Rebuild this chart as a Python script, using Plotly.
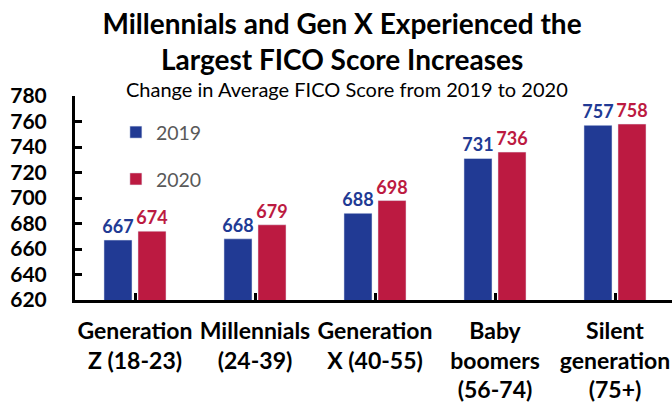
import plotly.graph_objects as go

categories = ["Generation<br>Z (18-23)", "Millennials<br>(24-39)", "Generation<br>X (40-55)",
              "Baby<br>boomers<br>(56-74)", "Silent<br>generation<br>(75+)"]
scores_2019 = [667, 668, 688, 731, 757]
scores_2020 = [674, 679, 698, 736, 758]
series_names = ["2019", "2020"]
y_ticks = [620, 640, 660, 680, 700, 720, 740, 760, 780]

BLUE = "#213A94"
RED = "#BC1A41"
FONT = "Lato"

fig = go.Figure()
for i, (name, vals, col) in enumerate(zip(series_names, [scores_2019, scores_2020], [BLUE, RED])):
    fig.add_trace(go.Bar(
        x=list(range(len(categories))), y=vals, name=name, marker_color=col,
        text=[str(v) for v in vals], textposition="outside", cliponaxis=False,
        constraintext="none",
        textfont=dict(family=FONT, size=18, color=col, weight="bold"),
        legendgroup=name,
    ))

fig.update_layout(
    width=672, height=402,
    margin=dict(l=75, r=0, t=96, b=102, autoexpand=False),
    paper_bgcolor="white", plot_bgcolor="white",
    barmode="group", bargap=0.433, bargroupgap=0.176,
    font=dict(family=FONT, color="black"),
    title=dict(
        text="Millennials and Gen X Experienced the<br>Largest FICO Score Increases",
        font=dict(family=FONT, size=28, color="black", weight="bold"),
        x=0.509, xanchor="center", xref="container",
        y=1 - 34 / 402, yanchor="top", yref="container",
    ),
    showlegend=True,
    legend=dict(
        x=0.0685, xanchor="left", y=0.917, yanchor="top",
        font=dict(family=FONT, size=19.5, color="#595959"),
        traceorder="grouped", tracegroupgap=18.5,
        bgcolor="rgba(0,0,0,0)", itemwidth=30,
    ),
    annotations=[dict(
        text="Change in Average FICO Score from 2019 to 2020",
        xref="paper", yref="paper", x=0.4556, y=(300 - 89) / 204,
        xanchor="center", yanchor="middle", showarrow=False,
        font=dict(family=FONT, size=20, color="black"),
    )],
)

fig.update_xaxes(
    range=[-0.5, 4.475], automargin=False,
    tickmode="array", tickvals=list(range(len(categories))), ticktext=categories,
    tickson="boundaries", ticks="inside", ticklen=7, tickwidth=2.5, tickcolor="black",
    showline=True, linewidth=3, linecolor="black", showgrid=False, zeroline=False,
    tickangle=0, ticklabelstandoff=8,
    tickfont=dict(family=FONT, size=23, color="black", weight="bold"),
)
fig.update_yaxes(
    range=[620, 780], tickmode="array", tickvals=y_ticks, automargin=False,
    ticks="inside", ticklen=7, tickwidth=2.5, tickcolor="black",
    showline=True, linewidth=3, linecolor="black", showgrid=False, zeroline=False,
    tickfont=dict(family=FONT, size=21, color="black", weight="bold"),
    ticklabelstandoff=21,
)

fig.write_html("out.html", config={"displayModeBar": False},
               post_script="document.body.style.margin='0';")
